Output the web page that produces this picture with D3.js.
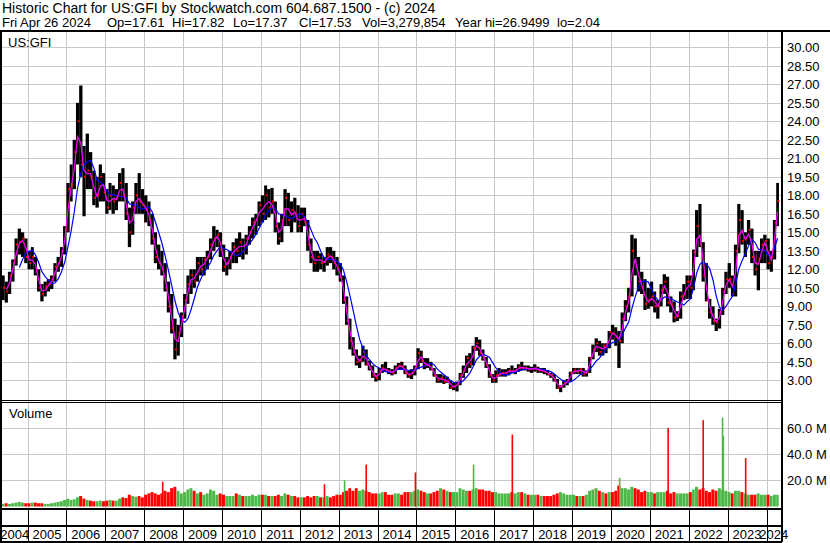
<!DOCTYPE html>
<html>
<head>
<meta charset="utf-8">
<script src="https://cdn.jsdelivr.net/npm/d3@7"></script>
<style>
  body { margin: 0; background: #fff; }
  svg { display: block; font-family: "Liberation Sans", Arial, sans-serif; }
</style>
</head>
<body>
<div id="chart"></div>
<script>
// monthly bars, May 2004 .. Apr 2024
const firstMonth = new Date(2004, 4, 1);
const highs = [
  11.5, 11, 11.8, 12.8, 14.5, 15.3, 15, 14.5,
  13.5, 13.8, 13, 12, 10.8, 11, 11.2, 11.5, 12.5, 13, 13.8, 15.5,
  19, 20.5, 22.5, 25.5, 26.9, 22, 23, 21.5, 20, 19.5, 20.5, 19.8,
  18.5, 19, 18.8, 18.5, 19.8, 20.2, 19, 17, 17.5, 19, 19.8, 18.5,
  18, 17.5, 16.5, 15, 14, 13.5, 12.5, 11, 10, 8, 7.5, 8.5,
  10, 11.5, 12, 12, 13, 13, 13, 13.5, 14.5, 15.5, 15.2, 15,
  14, 13, 13.5, 14.2, 14.5, 15, 14.5, 14.8, 15.5, 16.2, 16.5, 17.5,
  18, 18.8, 18.5, 18.6, 17.5, 15.8, 16.5, 18.5, 18.2, 17.5, 17.8, 17.2,
  17, 17, 16, 14.5, 13.5, 13.5, 13.3, 13, 13.8, 13.8, 13.5, 13,
  12.5, 11.5, 9.8, 8, 6.5, 5.5, 5, 5.8, 5.5, 4.6, 4.2, 3.6,
  4, 4.3, 4.5, 4, 3.9, 4.2, 4.4, 4.5, 4.2, 3.8, 3.9, 4.2,
  5.6, 5.4, 4.8, 4.8, 4.5, 4, 3.5, 3.5, 3.4, 3.3, 3, 2.8,
  2.9, 3.6, 4.2, 5, 5.2, 5.8, 6.5, 6.3, 5.5, 4.9, 4.3, 3.5,
  3.8, 4, 3.9, 3.9, 4, 4.2, 4, 4.3, 4.5, 4.2, 4.2, 4.1,
  4.3, 4.1, 4, 4, 3.8, 3.6, 3.5, 3.1, 2.6, 3, 3.1, 3.7,
  4, 4, 4, 4, 3.8, 4.9, 5.9, 6.4, 6.2, 6, 6, 7,
  7.5, 7.3, 7, 8.5, 9.5, 10.5, 14.8, 14.5, 13, 11.8, 11.2, 10.5,
  11, 10.2, 9.5, 10.8, 11.6, 11.4, 9.8, 9.4, 8.6, 10.2, 10.8, 11.5,
  11.5, 13.6, 16.8, 17.3, 14.2, 12.5, 9.6, 9, 8, 8.8, 10.5, 11.8,
  12.5, 11.5, 14, 17.3, 16.8, 15, 16, 15.3, 13.5, 13.5, 14.5, 14.8,
  14.5, 13.5, 16, 19
];
const lows = [
  9.5, 9.3, 10, 11, 12.3, 13.2, 13, 12.5,
  12, 12, 11.5, 10.2, 9.4, 9.8, 10.2, 10.4, 11, 11.8, 12.2, 13.2,
  15, 17.5, 18.5, 20.5, 19.5, 16.3, 18.5, 18.5, 17.2, 17, 17.5, 17.5,
  16.5, 16.8, 16.5, 16.8, 17.5, 17.5, 16, 13.8, 14.8, 16.5, 16.5, 16.5,
  15.8, 15.5, 14, 12.5, 12, 11.5, 10.2, 8.5, 6.8, 4.7, 5, 6.5,
  8, 9.2, 10, 10.5, 11, 11.5, 11.5, 12, 12.8, 13.5, 13.8, 13,
  11.8, 11.5, 12, 12.5, 12.5, 13, 12.8, 13.2, 14, 14.5, 14.8, 15.5,
  15.8, 16, 16.2, 16.5, 15, 14, 14.2, 15.5, 15.5, 15, 15.8, 15,
  15, 15.5, 13.5, 12.5, 11.8, 11.8, 12, 11.8, 12.3, 12.5, 12, 11.5,
  11, 9.2, 7.5, 5.5, 5, 4.2, 4, 4.5, 4.2, 3.8, 3.2, 2.9,
  3, 3.6, 3.7, 3.5, 3.4, 3.5, 3.9, 3.9, 3.5, 3.2, 3.1, 3.4,
  3.9, 4.4, 3.9, 4, 3.8, 3.3, 2.8, 2.8, 2.7, 2.8, 2.3, 2.2,
  2.1, 2.6, 3.2, 3.6, 4, 4.2, 5.4, 5, 4.6, 4, 3.2, 2.8,
  2.8, 3.3, 3.3, 3.3, 3.4, 3.6, 3.5, 3.7, 3.8, 3.8, 3.7, 3.6,
  3.7, 3.6, 3.6, 3.5, 3.4, 3.2, 2.9, 2.3, 2.04, 2.4, 2.6, 2.9,
  3.5, 3.5, 3.5, 3.3, 3.3, 3.6, 4.7, 5.3, 5, 5, 5.2, 5.6,
  6.3, 5.8, 4, 6, 7.8, 8.5, 9.8, 11.5, 10.2, 10, 8.7, 8.8,
  9, 8.5, 8, 9, 10, 9, 8.5, 7.7, 7.8, 8, 9.5, 9.6,
  9.6, 10.3, 13, 13.8, 11, 9.4, 8, 7.5, 7, 7.2, 8.3, 10,
  10.5, 9.8, 9.8, 13.3, 14, 13, 14, 12.5, 11.5, 10.3, 12.5, 12.5,
  12, 11.8, 12.8, 15.5
];
const closes = [
  10.5, 10.2, 11.5, 12.5, 14, 14.2, 14.5, 13,
  12.5, 13, 11.8, 10.5, 10, 10.6, 10.8, 11.2, 12.2, 12.5, 13.5, 15.2,
  18.5, 18.8, 21.5, 24, 20.5, 19.5, 20, 19.5, 17.8, 18, 19.5, 18.2,
  17, 18, 17.5, 17.8, 19, 18, 16.5, 15, 17, 18, 17.5, 17.2,
  16.8, 16, 14.5, 13, 12.5, 12, 10.5, 9, 7.2, 5.5, 6.8, 8.2,
  9.5, 10.8, 11.5, 11, 12.5, 12, 12.8, 13, 14, 14.5, 14.8, 13.6,
  12.2, 12.5, 13, 13.8, 13.5, 14.2, 13.5, 14.5, 15, 15.8, 16, 17.2,
  16.5, 18, 17, 17.5, 15.5, 14.5, 16, 17.8, 16, 16.8, 16.5, 15.5,
  16.5, 15.8, 14, 13, 12.5, 13, 12.5, 12.6, 13.2, 13, 12.5, 12,
  11.3, 9.5, 7.8, 6.2, 5.3, 4.5, 4.6, 5.3, 4.3, 4, 3.4, 3.2,
  3.8, 4, 3.8, 3.7, 3.6, 4, 4.2, 4.1, 3.6, 3.4, 3.6, 4,
  5.2, 4.6, 4.2, 4.3, 3.9, 3.4, 3, 3.2, 2.9, 3, 2.4, 2.5,
  2.7, 3.4, 3.8, 4.8, 4.3, 5.6, 6, 5.2, 4.8, 4.2, 3.4, 3,
  3.4, 3.5, 3.6, 3.6, 3.8, 3.7, 3.8, 4.1, 4, 4, 3.9, 3.9,
  4, 3.8, 3.8, 3.7, 3.5, 3.4, 3, 2.4, 2.5, 2.8, 2.9, 3.6,
  3.8, 3.7, 3.9, 3.5, 3.7, 4.8, 5.5, 6, 5.3, 5.8, 5.6, 6.9,
  6.8, 6.5, 6.2, 8, 9, 9.8, 13.5, 12.2, 11, 10.5, 9.2, 9.5,
  9.8, 9, 9, 10.3, 11, 9.3, 9.2, 8.1, 8.2, 9.8, 10, 11,
  10.5, 13.4, 15.5, 14, 11.5, 9.5, 8.5, 7.8, 7.7, 8.5, 10.2, 11.2,
  11.2, 10, 13.5, 16, 14.3, 14.5, 15.2, 13, 12, 12.8, 14, 14.3,
  12.5, 13, 15.8, 17.53
];
// typical weekly volume in each month, millions
const volumes = [
  2, 2.5, 2, 2.5, 3, 3.5, 3, 2.5,
  2.5, 3, 3, 2.5, 2.5, 2, 2, 2.5, 3, 3.5, 4, 5,
  6, 5, 5.5, 7, 8, 6, 5, 4.5, 4, 4, 4.5, 4,
  4.5, 5, 4.5, 4.5, 6, 7, 6.5, 9, 8, 7.5, 8, 7,
  9, 10, 11, 10, 9, 10, 12, 11, 14, 15, 12, 10,
  11, 13, 14, 12, 10, 11, 9, 10, 13, 12, 9, 10,
  9, 8, 8, 8, 10, 9, 8, 8, 8, 9, 8, 9,
  9, 9, 8, 8, 8, 9, 8, 10, 9, 8, 8, 7,
  7, 7, 8, 7, 8, 8, 7, 7, 8, 7, 8, 9,
  9, 11, 12, 14, 12, 14, 12, 13, 12, 11, 10, 10,
  10, 11, 11, 9, 9, 10, 10, 9, 11, 11, 11, 12,
  13, 12, 11, 10, 10, 11, 12, 14, 13, 12, 11, 11,
  11, 14, 13, 12, 12, 13, 14, 13, 13, 12, 12, 11,
  11, 10, 10, 10, 10, 11, 10, 11, 11, 10, 9, 9,
  9, 9, 8, 8, 8, 8, 9, 10, 11, 10, 9, 9,
  9, 8, 8, 8, 9, 12, 13, 14, 12, 11, 10, 11,
  11, 12, 16, 14, 14, 13, 15, 14, 13, 11, 12, 11,
  11, 10, 11, 11, 11, 12, 10, 11, 10, 10, 10, 10,
  11, 13, 15, 13, 14, 12, 11, 13, 12, 14, 13, 12,
  11, 10, 12, 12, 11, 10, 9, 9, 9, 10, 9, 9,
  9, 8, 9, 9
];
// single heavy weeks
const spikeDates = ['2008-06-16', '2012-08-13', '2013-02-18', '2013-09-09', '2014-12-15', '2016-06-13',
  '2017-06-12', '2020-03-16', '2021-06-14', '2022-05-09', '2022-11-07', '2022-11-14', '2023-06-12'];
const spikeVolumes = [19, 17, 20, 32, 26, 32, 55, 22, 60, 66, 68, 54, 37];
const spikeUp = [false, false, true, false, false, true, false, true, false, false, true, true, false];

const priceTicks = [3, 4.5, 6, 7.5, 9, 10.5, 12, 13.5, 15, 16.5, 18, 19.5, 21, 22.5, 24, 25.5, 27, 28.5, 30];
const volumeTicks = [20, 40, 60];
const years = [2004, 2005, 2006, 2007, 2008, 2009, 2010, 2011, 2012, 2013, 2014,
  2015, 2016, 2017, 2018, 2019, 2020, 2021, 2022, 2023, 2024];
const quoteLine = ['Fri Apr 26 2024', 'Op=17.61', 'Hi=17.82', 'Lo=17.37', 'Cl=17.53',
  'Vol=3,279,854', 'Year hi=26.9499', 'lo=2.04'];

const width = 830, height = 543;
const left = 2, right = 781;
const priceTop = 32, priceBottom = 400;
const volTop = 402, volBottom = 508;

const months = closes.map((c, i) => d3.timeMonth.offset(firstMonth, i));
const lastDate = new Date(2024, 3, 27);

const svg = d3.select('#chart').append('svg')
    .attr('width', width)
    .attr('height', height);

const x = d3.scaleTime()
    .domain([new Date(2005, 0, 1), new Date(2024, 0, 1)])
    .range([27.5, 766.5]);
const y = d3.scaleLinear().domain([3, 30]).range([380.3, 47.3]);
const yVol = d3.scaleLinear().domain([0, 60]).range([506.5, 428]);

// clip paths
const defs = svg.append('defs');
defs.append('clipPath').attr('id', 'clipPrice')
  .append('rect').attr('x', left).attr('y', priceTop).attr('width', right - left).attr('height', priceBottom - priceTop);
defs.append('clipPath').attr('id', 'clipVol')
  .append('rect').attr('x', left).attr('y', volTop).attr('width', right - left).attr('height', volBottom - volTop);

// header
svg.append('text').attr('x', 2).attr('y', 13).attr('font-size', '14px')
    .text('Historic Chart for US:GFI by Stockwatch.com 604.687.1500 - (c) 2024');
const quoteX = [2, 107, 172, 233, 299, 362, 455, 557];
svg.selectAll('.hb').data(quoteLine).enter().append('text')
    .attr('x', (d, i) => quoteX[i]).attr('y', 27)
    .attr('font-size', '13px')
    .text(d => d);

// grid
const yearLines = years.slice(1).map(yr => new Date(yr, 0, 1));
const grid = svg.append('g').attr('stroke', '#c8c8c8').attr('stroke-width', 1).attr('shape-rendering', 'crispEdges');
grid.selectAll('.pg').data(priceTicks).enter().append('line')
    .attr('x1', left).attr('x2', right)
    .attr('y1', d => Math.round(y(d)) + 0.5).attr('y2', d => Math.round(y(d)) + 0.5);
grid.selectAll('.vg').data(volumeTicks).enter().append('line')
    .attr('x1', left).attr('x2', right)
    .attr('y1', d => Math.round(yVol(d)) + 0.5).attr('y2', d => Math.round(yVol(d)) + 0.5);
grid.selectAll('.xg').data(yearLines).enter().append('line')
    .attr('x1', d => Math.round(x(d)) + 0.5).attr('x2', d => Math.round(x(d)) + 0.5)
    .attr('y1', priceTop).attr('y2', volBottom);

// labels in panels
svg.append('text').attr('x', 8).attr('y', 47).attr('font-size', '13px').text('US:GFI');
svg.append('text').attr('x', 9).attr('y', 418).attr('font-size', '13px').text('Volume');

// price bars
const price = svg.append('g').attr('clip-path', 'url(#clipPrice)');
const x0 = i => x(months[i]);
const x1 = i => Math.min(x(d3.timeMonth.offset(months[i], 1)), x(lastDate));
price.selectAll('.bar').data(closes).enter().append('rect')
    .attr('x', (d, i) => x0(i))
    .attr('width', (d, i) => Math.max(1, x1(i) - x0(i)))
    .attr('y', (d, i) => y(highs[i]))
    .attr('height', (d, i) => y(lows[i]) - y(highs[i]))
    .attr('fill', '#000');
price.selectAll('.cl').data(closes).enter().append('rect')
    .attr('x', (d, i) => x1(i) - 1.6)
    .attr('width', 2)
    .attr('y', d => y(d) - 1)
    .attr('height', 2)
    .attr('fill', '#ff0000');

// moving averages of the monthly closes
function movingAverage(values, n) {
    return values.map((v, i) => i < n - 1 ? null : d3.mean(values.slice(i - n + 1, i + 1)));
}
const fast = movingAverage(closes, 2);
const slow = movingAverage(closes, 6);
const mid = i => (x0(i) + x1(i)) / 2;
const line = d3.line().defined(d => d[1] != null).x(d => mid(d[0])).y(d => y(d[1]));
price.append('path')
    .attr('d', line(slow.map((v, i) => [i, v])))
    .attr('fill', 'none').attr('stroke', '#0000ff').attr('stroke-width', 1.2);
price.append('path')
    .attr('d', line(fast.map((v, i) => [i, v])))
    .attr('fill', 'none').attr('stroke', '#ff00ff').attr('stroke-width', 1.2);

// volume
const vol = svg.append('g').attr('clip-path', 'url(#clipVol)');
const volColor = (i) => i === 0 || closes[i] >= closes[i - 1] ? '#4cb848' : '#ff0000';
vol.selectAll('.vb').data(volumes).enter().append('rect')
    .attr('x', (d, i) => x0(i))
    .attr('width', (d, i) => Math.max(1, x1(i) - x0(i) - 0.3))
    .attr('y', d => yVol(d))
    .attr('height', d => yVol(0) - yVol(d))
    .attr('fill', (d, i) => volColor(i));
const parseDay = d3.timeParse('%Y-%m-%d');
vol.selectAll('.vs').data(spikeVolumes).enter().append('rect')
    .attr('x', (d, i) => x(parseDay(spikeDates[i])))
    .attr('width', 1.6)
    .attr('y', d => yVol(d))
    .attr('height', d => yVol(0) - yVol(d))
    .attr('fill', (d, i) => spikeUp[i] ? '#4cb848' : '#ff0000');

// axis labels
svg.selectAll('.pl').data(priceTicks).enter().append('text')
    .attr('x', 787).attr('y', d => y(d) + 5)
    .attr('font-size', '13px')
    .text(d => d.toFixed(2));
svg.selectAll('.vl').data(volumeTicks).enter().append('text')
    .attr('x', 787).attr('y', d => yVol(d) + 5)
    .attr('font-size', '13px')
    .text(d => d.toFixed(1) + ' M');

// frame
const frame = svg.append('g').attr('stroke', '#000').attr('shape-rendering', 'crispEdges');
frame.append('line').attr('x1', 0).attr('x2', width).attr('y1', 31).attr('y2', 31).attr('stroke-width', 2);
frame.append('line').attr('x1', 1).attr('x2', 1).attr('y1', 30).attr('y2', 542).attr('stroke-width', 2);
frame.append('line').attr('x1', 782).attr('x2', 782).attr('y1', 30).attr('y2', 542).attr('stroke-width', 2);
frame.append('line').attr('x1', 0).attr('x2', 782).attr('y1', 400.5).attr('y2', 400.5).attr('stroke-width', 1);
frame.append('line').attr('x1', 0).attr('x2', 782).attr('y1', 402.5).attr('y2', 402.5).attr('stroke-width', 1);
frame.append('line').attr('x1', 0).attr('x2', 782).attr('y1', 509).attr('y2', 509).attr('stroke-width', 2);
frame.append('line').attr('x1', 0).attr('x2', 782).attr('y1', 526).attr('y2', 526).attr('stroke-width', 2);
frame.append('line').attr('x1', 0).attr('x2', 782).attr('y1', 542).attr('y2', 542).attr('stroke-width', 2);
frame.selectAll('.yt').data(yearLines).enter().append('line')
    .attr('x1', d => Math.round(x(d)) + 0.5).attr('x2', d => Math.round(x(d)) + 0.5)
    .attr('y1', 509).attr('y2', 542).attr('stroke-width', 1);

// year labels, centred in each year's slot
const slot = yr => [Math.max(x(new Date(yr, 0, 1)), left), Math.min(x(new Date(yr + 1, 0, 1)), right)];
svg.selectAll('.yl').data(years).enter().append('text')
    .attr('x', d => (slot(d)[0] + slot(d)[1]) / 2)
    .attr('y', 539)
    .attr('text-anchor', 'middle')
    .attr('font-size', '13px')
    .text(d => d);
</script>
</body>
</html>
